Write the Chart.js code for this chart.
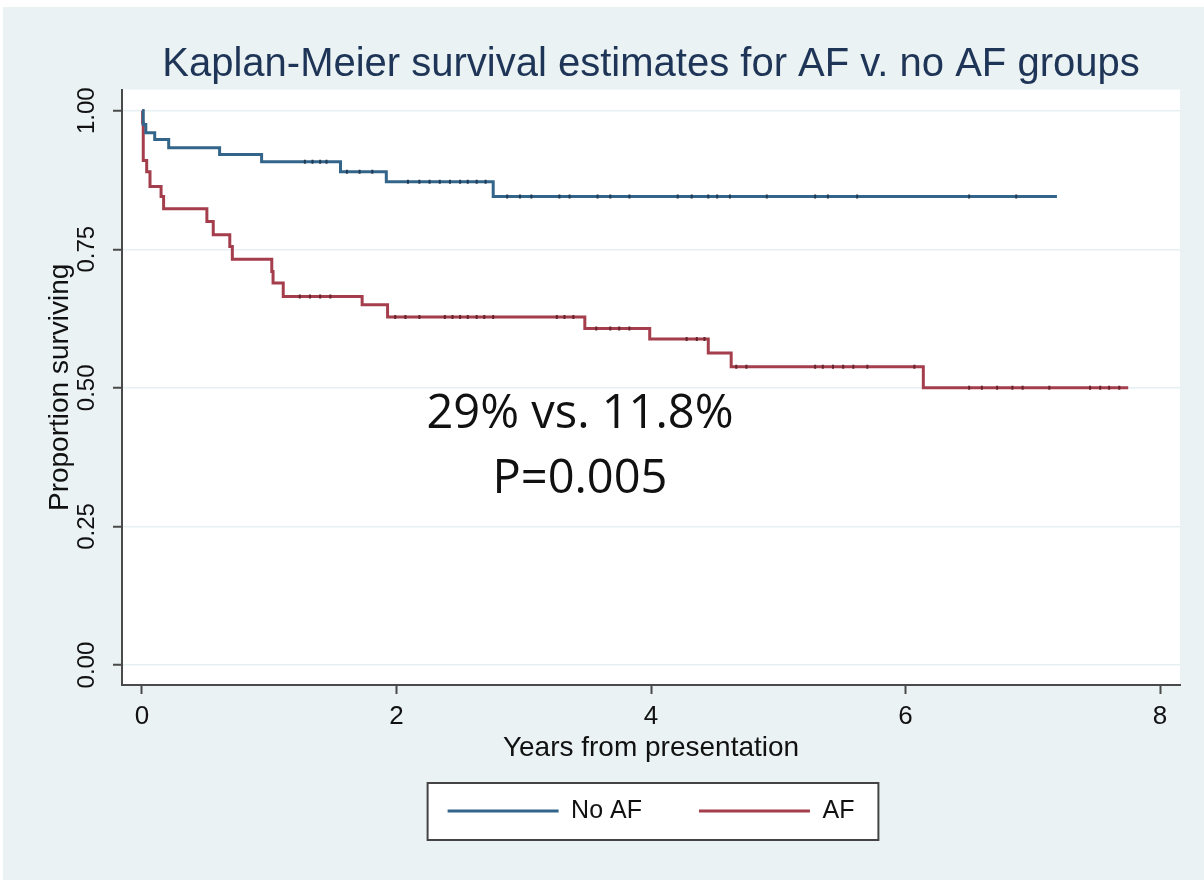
<!DOCTYPE html>
<html>
<head>
<meta charset="utf-8">
<script src="https://cdn.jsdelivr.net/npm/chart.js@4.4.0/dist/chart.umd.min.js"></script>
<style>
  html, body { margin: 0; padding: 0; background: #fff; }
</style>
</head>
<body>
<canvas id="Chart" width="1204" height="880"></canvas>
<script>
// step points: time (years) and survival after the drop at that time
const noAfTime = [0, 0.01, 0.03, 0.10, 0.21, 0.61, 0.94, 1.56, 1.92, 2.76, 7.19];
const noAfSurv = [1.0, 0.975, 0.960, 0.948, 0.933, 0.921, 0.908, 0.890, 0.872, 0.845, 0.845];

const afTime = [0, 0.005, 0.01, 0.037, 0.063, 0.15, 0.17, 0.51, 0.56, 0.69, 0.71, 1.02, 1.03, 1.11, 1.73, 1.93, 3.48, 3.99, 4.45, 4.63, 6.14, 7.75];
const afSurv = [1.0, 0.978, 0.910, 0.890, 0.863, 0.845, 0.823, 0.800, 0.776, 0.755, 0.732, 0.710, 0.689, 0.665, 0.650, 0.628, 0.607, 0.588, 0.563, 0.538, 0.500, 0.500];

// censoring times (small tick marks on the curves)
const noAfCensor = [1.28, 1.34, 1.40, 1.45, 1.61, 1.71, 1.81, 2.09, 2.18, 2.26, 2.34, 2.42, 2.50, 2.56, 2.63, 2.70,
  2.87, 2.97, 3.06, 3.28, 3.36, 3.58, 3.68, 3.83, 4.21, 4.32, 4.45, 4.52, 4.62, 4.91, 5.29, 5.39, 5.62, 6.50, 6.87];
const afCensor = [1.24, 1.32, 1.40, 1.48, 1.99, 2.07, 2.18, 2.38, 2.44, 2.50, 2.56, 2.63, 2.69, 2.76, 3.26, 3.32,
  3.39, 3.57, 3.68, 3.75, 3.83, 4.28, 4.36, 4.42, 4.67, 4.75, 5.29, 5.35, 5.43, 5.51, 5.59, 5.70, 6.07, 6.50,
  6.60, 6.72, 6.84, 6.92, 7.13, 7.45, 7.53, 7.60, 7.68];

const seriesNames = ["No AF", "AF"];
const xTicks = [0, 2, 4, 6, 8];
const yTicks = [0, 0.25, 0.5, 0.75, 1];
const noteLines = ["29% vs. 11.8%", "P=0.005"];

const FONT = "'Liberation Sans', Arial, Helvetica, sans-serif";

function points(times, surv) {
  return times.map((t, i) => ({ x: t, y: surv[i] }));
}
// survival value of the step curve at time t (for placing censor marks)
function survAt(times, surv, t) {
  let s = surv[0];
  for (let i = 0; i < times.length; i++) {
    if (times[i] <= t) s = surv[i];
  }
  return s;
}
function censorPoints(cens, times, surv) {
  return cens.map(t => ({ x: t, y: survAt(times, surv, t) }));
}

const bgPlugin = {
  id: "bg",
  beforeDraw(chart) {
    const { ctx, chartArea: a, width, height } = chart;
    ctx.save();
    ctx.fillStyle = "#ffffff";
    ctx.fillRect(0, 0, width, height);
    ctx.fillStyle = "#eaf2f3";
    ctx.fillRect(3, 7, width - 3, height - 7);
    ctx.fillStyle = "#ffffff";
    ctx.fillRect(a.left, a.top, a.right - a.left, a.bottom - a.top);
    // legend frame
    const hb = chart.legend.legendHitBoxes;
    if (hb && hb.length) {
      const l = Math.min(...hb.map(b => b.left)) - 20;
      const r = Math.max(...hb.map(b => b.left + b.width)) + 24;
      const cy = hb[0].top + hb[0].height / 2;
      ctx.fillStyle = "#ffffff";
      ctx.fillRect(l, cy - 28, r - l, 57);
      ctx.strokeStyle = "#444";
      ctx.lineWidth = 2;
      ctx.strokeRect(l, cy - 28, r - l, 57);
    }
    ctx.restore();
  }
};

const notePlugin = {
  id: "note",
  afterDatasetsDraw(chart) {
    const { ctx, chartArea: a } = chart;
    ctx.save();
    ctx.fillStyle = "#111";
    ctx.font = "47px 'Open Sans', sans-serif";
    ctx.textAlign = "center";
    ctx.textBaseline = "middle";
    const cx = a.left + 458;
    ctx.fillText(noteLines[0], cx, a.top + 325);
    ctx.fillText(noteLines[1], cx, a.top + 390);
    ctx.restore();
  }
};

const ctx = document.getElementById("Chart").getContext("2d");
const myChart = new Chart(ctx, {
  type: "line",
  data: {
    datasets: [
      {
        label: seriesNames[0],
        data: points(noAfTime, noAfSurv),
        borderColor: "#33658a",
        borderWidth: 3,
        stepped: true,
        pointRadius: 0,
        fill: false,
        order: 1
      },
      {
        label: seriesNames[1],
        data: points(afTime, afSurv),
        borderColor: "#a43d4c",
        borderWidth: 3,
        stepped: true,
        pointRadius: 0,
        fill: false,
        order: 1
      },
      {
        type: "scatter",
        label: "cens0",
        data: censorPoints(noAfCensor, noAfTime, noAfSurv),
        pointStyle: "line",
        rotation: 90,
        pointRadius: 2,
        borderColor: "#1f3a52",
        borderWidth: 2,
        order: 0
      },
      {
        type: "scatter",
        label: "cens1",
        data: censorPoints(afCensor, afTime, afSurv),
        pointStyle: "line",
        rotation: 90,
        pointRadius: 2,
        borderColor: "#66222d",
        borderWidth: 2,
        order: 0
      }
    ]
  },
  options: {
    responsive: false,
    animation: false,
    events: [],
    layout: { padding: { top: 0, left: 0, right: 24, bottom: 46.5 } },
    plugins: {
      tooltip: { enabled: false },
      title: {
        display: true,
        text: "Kaplan-Meier survival estimates for AF v. no AF groups",
        color: "#1f3557",
        font: { family: FONT, size: 40, weight: "normal" },
        padding: { top: 41, bottom: 0.6 },
        fullSize: false
      },
      legend: {
        position: "bottom",
        fullSize: false,
        labels: {
          filter: item => item.text.indexOf("cens") !== 0,
          usePointStyle: true,
          pointStyle: "line",
          pointStyleWidth: 111,
          padding: 57,
          color: "#111",
          font: { family: FONT, size: 25 }
        }
      }
    },
    scales: {
      x: {
        type: "linear",
        min: -0.157,
        max: 8.157,
        afterBuildTicks: s => { s.ticks = xTicks.map(v => ({ value: v })); },
        afterFit: s => { s.height = 56.5; },
        grid: { drawOnChartArea: false, drawTicks: true, tickLength: 9, tickColor: "#4a4a4a", tickWidth: 2 },
        border: { color: "#4a4a4a", width: 2 },
        ticks: { color: "#111", padding: 7, maxRotation: 0, font: { family: FONT, size: 26 } },
        title: {
          display: true,
          text: "Years from presentation",
          color: "#111",
          font: { family: FONT, size: 28 },
          padding: { top: 0, bottom: -23.3 }
        }
      },
      y: {
        type: "linear",
        min: -0.036,
        max: 1.038,
        afterBuildTicks: s => { s.ticks = yTicks.map(v => ({ value: v })); },
        afterFit: s => { s.width = 122; },
        grid: { color: "#e6eff1", lineWidth: 1.5, tickLength: 9, tickColor: "#4a4a4a", tickWidth: 2 },
        border: { color: "#4a4a4a", width: 2 },
        ticks: {
          callback: v => v.toFixed(2),
          minRotation: 90,
          maxRotation: 90,
          crossAlign: "center",
          padding: 2,
          color: "#111",
          font: { family: FONT, size: 24 }
        },
        title: {
          display: true,
          text: "Proportion surviving",
          color: "#111",
          font: { family: FONT, size: 28 },
          padding: { top: 43, bottom: 0 }
        }
      }
    }
  },
  plugins: [bgPlugin, notePlugin]
});
</script>
</body>
</html>
